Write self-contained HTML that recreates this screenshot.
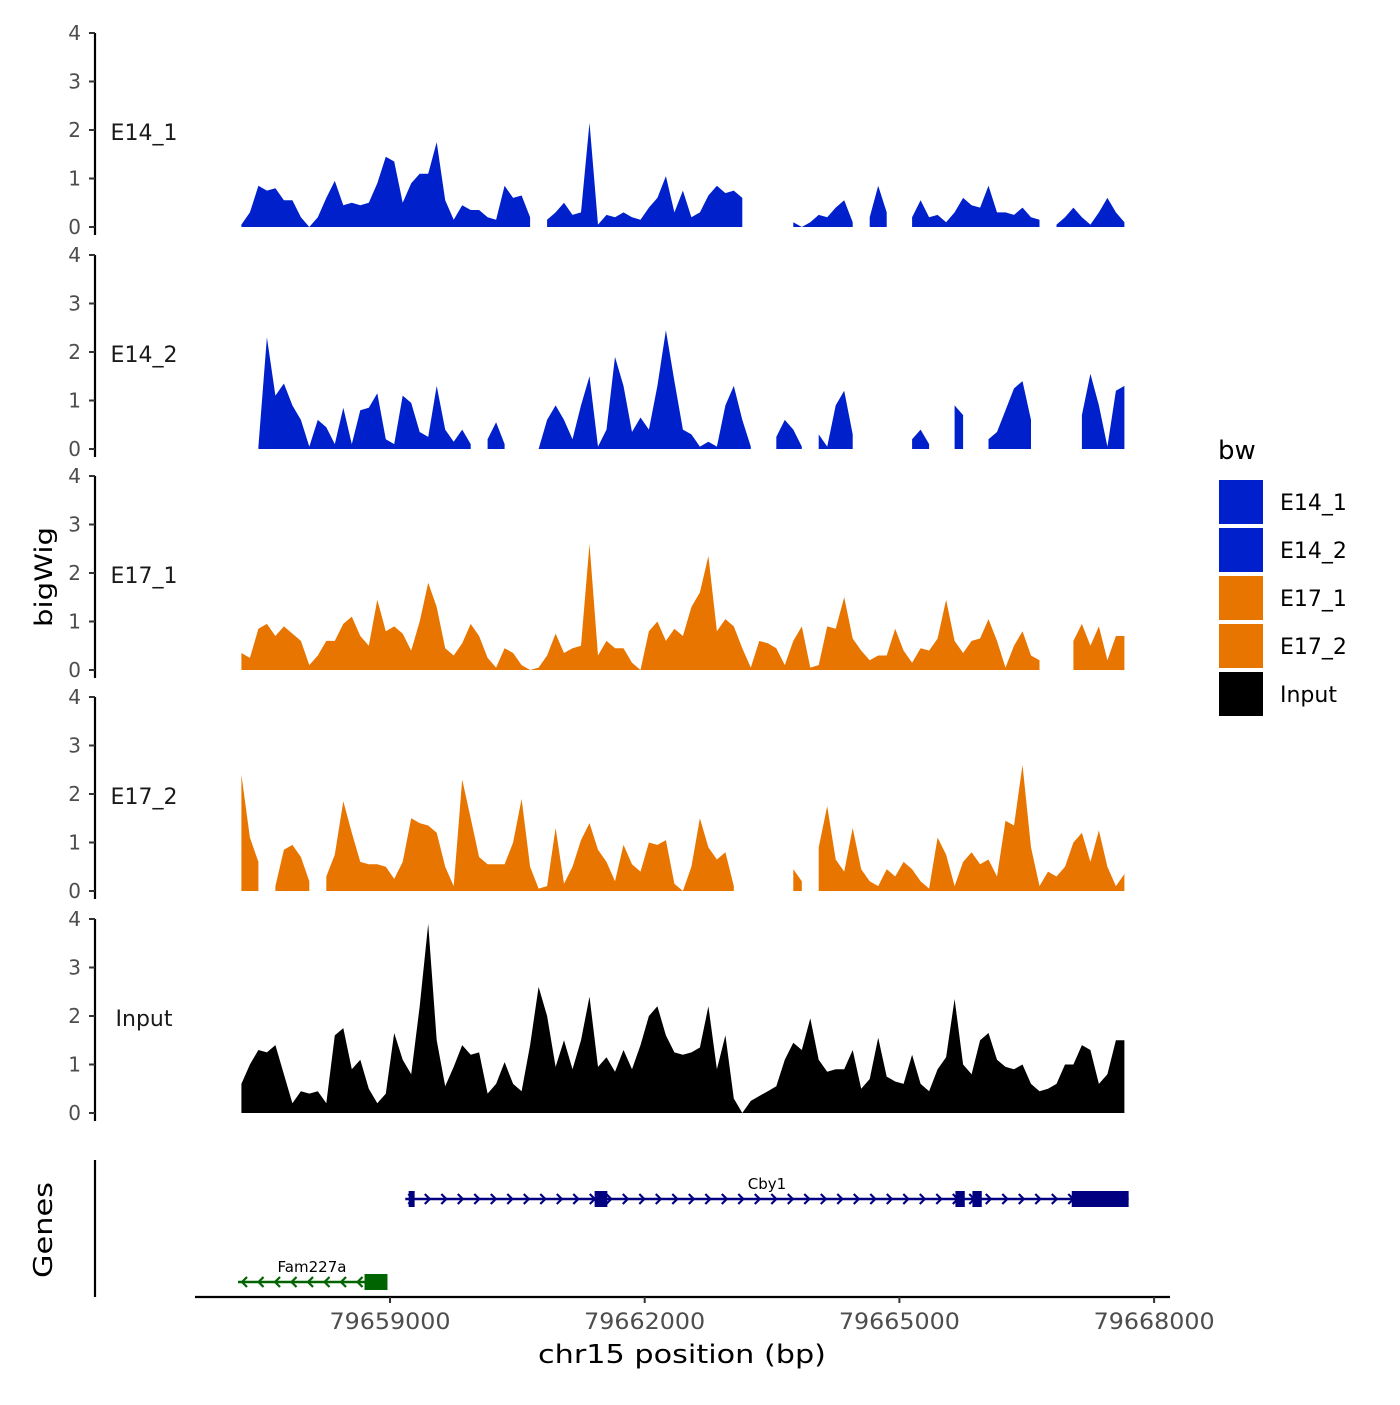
<!DOCTYPE html>
<html><head><meta charset="utf-8"><style>
body{margin:0;background:#fff;}
svg text{font-family:"DejaVu Sans","Liberation Sans",sans-serif;}
</style></head><body>
<svg id="chart" width="1400" height="1400" xmlns="http://www.w3.org/2000/svg">
<g id="panels"></g>
<g id="genes"></g>
<g id="xaxis"></g>
<text x="0" y="0" transform="translate(52,577) rotate(-90)" font-size="24" text-anchor="middle" textLength="100" lengthAdjust="spacingAndGlyphs" fill="#000">bigWig</text>
<text x="0" y="0" transform="translate(52,1230) rotate(-90)" font-size="26" text-anchor="middle" textLength="96" lengthAdjust="spacingAndGlyphs" fill="#000">Genes</text>
<text x="682" y="1363" font-size="26" text-anchor="middle" textLength="288" lengthAdjust="spacingAndGlyphs" fill="#000">chr15 position (bp)</text>
<g id="legend"></g>
</svg>
<script>
const binStart = 79657250;
const binStep = 100;
const trackNames = ["E14_1","E14_2","E17_1","E17_2","Input"];
const trackColors = ["#0020CC","#0020CC","#E87500","#E87500","#000000"];
const yTicks = [0,1,2,3,4];
const xTicks = [79659000,79662000,79665000,79668000];
const xTickLabels = ["79659000","79662000","79665000","79668000"];
const N = null;
const e14_1 = [0.05,0.3,0.85,0.75,0.8,0.55,0.55,0.2,0,0.2,0.6,0.95,0.45,0.5,0.45,0.5,0.9,1.45,1.35,0.5,0.9,1.1,1.1,1.75,0.55,0.15,0.45,0.35,0.35,0.2,0.15,0.85,0.6,0.65,0.2,N,0.15,0.3,0.5,0.25,0.3,2.15,0.05,0.25,0.2,0.3,0.2,0.15,0.4,0.6,1.05,0.3,0.75,0.2,0.3,0.65,0.85,0.7,0.75,0.6,N,N,N,N,N,0.1,0,0.1,0.25,0.2,0.4,0.55,0.1,N,0.2,0.85,0.3,N,N,0.2,0.55,0.2,0.25,0.1,0.3,0.6,0.45,0.4,0.85,0.3,0.3,0.25,0.4,0.2,0.15,N,0.05,0.2,0.4,0.2,0.05,0.3,0.6,0.3,0.1];
const e14_2 = [N,N,0.05,2.3,1.1,1.35,0.9,0.6,0.05,0.6,0.45,0.1,0.85,0.1,0.8,0.85,1.15,0.2,0.1,1.1,0.95,0.35,0.25,1.3,0.4,0.15,0.4,0.1,N,0.2,0.55,0.1,N,N,N,0,0.6,0.9,0.6,0.2,0.9,1.5,0.05,0.4,1.9,1.3,0.35,0.65,0.4,1.3,2.45,1.4,0.4,0.3,0.05,0.15,0.05,0.9,1.3,0.6,0.05,N,N,0.25,0.6,0.4,0.05,N,0.3,0.05,0.9,1.2,0.3,N,N,N,N,N,N,0.2,0.4,0.1,N,N,0.9,0.7,N,N,0.2,0.35,0.8,1.25,1.4,0.6,N,N,N,N,N,0.7,1.55,0.9,0.05,1.2,1.3];
const e17_1 = [0.35,0.25,0.85,0.95,0.7,0.9,0.75,0.6,0.1,0.3,0.6,0.6,0.95,1.1,0.7,0.5,1.45,0.8,0.9,0.75,0.4,1.0,1.8,1.3,0.45,0.3,0.55,0.95,0.7,0.25,0.05,0.45,0.35,0.1,0,0.05,0.3,0.75,0.35,0.45,0.5,2.6,0.3,0.6,0.45,0.45,0.15,0,0.8,1.0,0.6,0.85,0.7,1.3,1.6,2.35,0.8,1.05,0.9,0.45,0.05,0.6,0.55,0.45,0.1,0.6,0.9,0.05,0.1,0.9,0.85,1.5,0.65,0.4,0.2,0.3,0.3,0.85,0.4,0.15,0.45,0.4,0.65,1.45,0.6,0.35,0.6,0.65,1.05,0.6,0.05,0.5,0.8,0.3,0.2,N,N,N,0.6,0.95,0.5,0.9,0.2,0.7,0.7];
const e17_2 = [2.4,1.1,0.6,N,0.1,0.85,0.95,0.7,0.2,N,0.3,0.75,1.85,1.2,0.6,0.55,0.55,0.5,0.25,0.6,1.5,1.4,1.35,1.2,0.5,0.1,2.3,1.5,0.7,0.55,0.55,0.55,1.0,1.9,0.5,0.05,0.1,1.3,0.15,0.5,1.05,1.4,0.85,0.6,0.2,0.95,0.55,0.4,1.0,0.95,1.05,0.15,0,0.5,1.5,0.9,0.65,0.8,0.1,N,N,N,N,N,N,0.45,0.2,N,0.9,1.75,0.65,0.4,1.3,0.45,0.2,0.1,0.45,0.3,0.6,0.45,0.2,0.05,1.1,0.75,0.1,0.6,0.8,0.55,0.65,0.3,1.45,1.35,2.6,0.9,0.1,0.4,0.3,0.5,1.0,1.2,0.6,1.25,0.5,0.1,0.35];
const input = [0.6,1.0,1.3,1.25,1.4,0.8,0.2,0.45,0.4,0.45,0.2,1.6,1.75,0.9,1.1,0.5,0.2,0.4,1.65,1.1,0.8,2.2,3.9,1.5,0.55,0.95,1.4,1.2,1.25,0.4,0.6,1.05,0.6,0.45,1.4,2.6,2.0,0.95,1.5,0.9,1.5,2.4,0.95,1.15,0.85,1.3,0.9,1.4,2.0,2.2,1.6,1.25,1.2,1.25,1.35,2.2,0.9,1.6,0.3,0,0.25,0.35,0.45,0.55,1.1,1.45,1.3,1.95,1.1,0.85,0.9,0.9,1.3,0.5,0.7,1.55,0.75,0.65,0.6,1.2,0.6,0.45,0.9,1.15,2.35,1.0,0.8,1.5,1.65,1.1,0.95,0.9,1.0,0.6,0.45,0.5,0.6,1.0,1.0,1.4,1.3,0.6,0.8,1.5,1.5];
const trackValues = [e14_1,e14_2,e17_1,e17_2,input];
// gene models
const cbyStart = 79659180, cbyEnd = 79667700;
const cbyExons = [[79659220,79659290],[79661410,79661560],[79665660,79665770],[79665860,79665970],[79667030,79667700]];
const famStart = 79657210, famEnd = 79658970;
const famExons = [[79658700,79658970]];

const NS = "http://www.w3.org/2000/svg";
function mk(tag, attrs, parent){const e=document.createElementNS(NS,tag);for(const k in attrs)e.setAttribute(k,attrs[k]);parent.appendChild(e);return e;}
function xScale(bp){return 390 + (bp-79659000)*0.0849;}
const panelBase = [227,449,670,891,1113];
const unit = 48.5;

const panels = document.getElementById('panels');
trackNames.forEach((name,p)=>{
  const g = mk('g',{},panels);
  
  
  const base = panelBase[p];
  const y = v => base - v*unit;
  const ax = mk('line',{x1:95,x2:95,y1:y(4),y2:base+8,stroke:'#000','stroke-width':2.2},g);
  
  
  yTicks.forEach(t=>{
    mk('line',{x1:89,x2:95,y1:y(t),y2:y(t),stroke:'#333','stroke-width':2},g);
    const tl = mk('text',{x:81,y:y(t)+7,'font-size':20,'text-anchor':'end',fill:'#4d4d4d'},g);
    tl.textContent = t;
    
    
  });
  const lab = mk('text',{x:144,y:y(2)+10,'font-size':22,'text-anchor':'middle',fill:'#1a1a1a'},g);
  lab.textContent = name;
  
  
  const vals = trackValues[p];
  let run = [];
  const flush = ()=>{
    if(run.length){
      let d = 'M'+run[0][0].toFixed(1)+','+base;
      run.forEach(q=>{d+=' L'+q[0].toFixed(1)+','+y(q[1]).toFixed(1);});
      d += ' L'+run[run.length-1][0].toFixed(1)+','+base+' Z';
      const a = mk('path',{d:d,fill:trackColors[p]},g);
      
      
    }
    run=[];
  };
  vals.forEach((v,i)=>{
    if(v===null){flush();return;}
    run.push([xScale(binStart+i*binStep), v]);
  });
  flush();
});

const genes = document.getElementById('genes');
mk('line',{x1:95,x2:95,y1:1160,y2:1297,stroke:'#000','stroke-width':2.2},genes);
function drawGene(name,start,end,exons,yy,color,dir,labelX){
  const g = mk('g',{},genes);
  
  
  const x1=xScale(start), x2=xScale(end);
  mk('line',{x1:x1,x2:x2,y1:yy,y2:yy,stroke:color,'stroke-width':2.5},g);
  for(let x=x1+6;x<x2-4;x+=16.5){
    const d = dir>0 ? `M${x-3},${yy-5} L${x+2},${yy} L${x-3},${yy+5}` : `M${x+3},${yy-5} L${x-2},${yy} L${x+3},${yy+5}`;
    mk('path',{d:d,stroke:color,'stroke-width':2.2,fill:'none'},g);
  }
  exons.forEach(e=>{
    const a=xScale(e[0]), b=xScale(e[1]);
    mk('rect',{x:a,y:yy-8,width:Math.max(4,b-a),height:16,fill:color},g);
  });
  const t = mk('text',{x:labelX,y:yy-10,'font-size':15,'text-anchor':'middle',fill:'#000'},g);
  t.textContent=name;
}
drawGene('Cby1',cbyStart,cbyEnd,cbyExons,1199,'#000080',1,767);
drawGene('Fam227a',famStart,famEnd,famExons,1282,'#006400',-1,312);

const xa = document.getElementById('xaxis');
mk('line',{x1:195,x2:1170,y1:1297,y2:1297,stroke:'#000','stroke-width':2.2},xa);
xTicks.forEach((t,i)=>{
  const x=xScale(t);
  mk('line',{x1:x,x2:x,y1:1297,y2:1303,stroke:'#333','stroke-width':2},xa);
  const tl = mk('text',{x:x,y:1329,'font-size':22,'text-anchor':'middle',textLength:121,lengthAdjust:'spacingAndGlyphs',fill:'#4d4d4d'},xa);
  tl.textContent = xTickLabels[i];
  
  
});

const lg = document.getElementById('legend');
const lt = mk('text',{x:1218,y:459,'font-size':26,fill:'#000'},lg);
lt.textContent='bw';
trackNames.forEach((n,i)=>{
  const yy = 480 + i*48;
  const r = mk('rect',{x:1219,y:yy,width:44,height:44,fill:trackColors[i]},lg);
  
  
  const t = mk('text',{x:1280,y:yy+30,'font-size':22,fill:'#000'},lg);
  t.textContent=n;
  
  
});
</script>
</body></html>
